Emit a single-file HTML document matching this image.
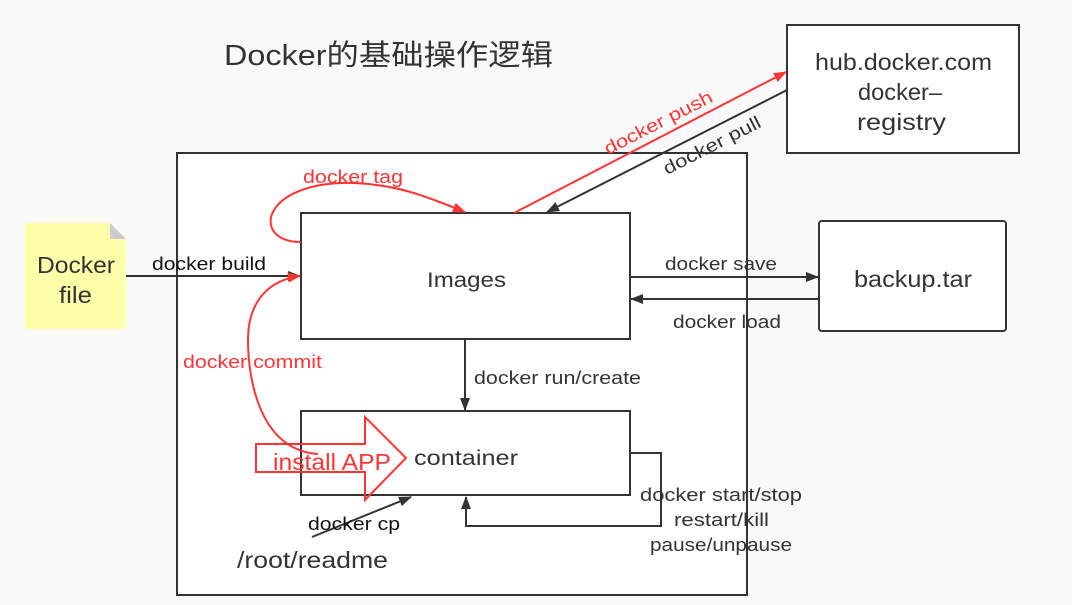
<!DOCTYPE html>
<html><head><meta charset="utf-8"><style>
html,body{margin:0;padding:0;background:#f9f9f9;}
svg{display:block;}
text{font-family:"Liberation Sans","Noto Sans CJK SC",sans-serif;}
</style></head><body>
<svg width="1072" height="605" viewBox="0 0 1072 605" xmlns="http://www.w3.org/2000/svg">
<defs>
<marker id="ab" markerWidth="13" markerHeight="10" refX="12" refY="5" orient="auto" markerUnits="userSpaceOnUse"><path d="M0,0 L13,5 L0,10 z" fill="#333"/></marker>
<marker id="ar" markerWidth="13" markerHeight="10" refX="12" refY="5" orient="auto" markerUnits="userSpaceOnUse"><path d="M0,0 L13,5 L0,10 z" fill="#ff3333"/></marker>
</defs>
<rect x="0" y="0" width="1072" height="605" fill="#f9f9f9"/>
<text x="224" y="65" font-size="29" fill="#333" textLength="329" lengthAdjust="spacingAndGlyphs">Docker的基础操作逻辑</text>
<rect x="177" y="153" width="570" height="442" fill="#fff" stroke="#333" stroke-width="2"/>
<!-- sticky -->
<path d="M25,223 L110,223 L126,239 L126,329 L25,329 z" fill="#ffffaa"/>
<path d="M110,223 L126,239 L110,239 z" fill="#ccc"/>
<text x="37" y="273" font-size="23" fill="#333" textLength="78" lengthAdjust="spacingAndGlyphs">Docker</text>
<text x="59" y="303" font-size="23" fill="#333" textLength="33" lengthAdjust="spacingAndGlyphs">file</text>
<!-- boxes -->
<rect x="301" y="213" width="329" height="126" fill="#fff" stroke="#333" stroke-width="2"/>
<text x="427" y="287" font-size="21" fill="#333" textLength="79" lengthAdjust="spacingAndGlyphs">Images</text>
<rect x="301" y="411" width="329" height="84" fill="#fff" stroke="#333" stroke-width="2"/>
<text x="414" y="465" font-size="21" fill="#333" textLength="104" lengthAdjust="spacingAndGlyphs">container</text>
<rect x="787" y="25" width="232" height="128" fill="#fff" stroke="#333" stroke-width="2"/>
<text x="815" y="70" font-size="23" fill="#333" textLength="177" lengthAdjust="spacingAndGlyphs">hub.docker.com</text>
<text x="858" y="100" font-size="23" fill="#333" textLength="84" lengthAdjust="spacingAndGlyphs">docker–</text>
<text x="857" y="130" font-size="23" fill="#333" textLength="89" lengthAdjust="spacingAndGlyphs">registry</text>
<rect x="819" y="221" width="187" height="110" rx="3" fill="#fff" stroke="#333" stroke-width="2"/>
<text x="854" y="287" font-size="23" fill="#333" textLength="118" lengthAdjust="spacingAndGlyphs">backup.tar</text>
<!-- arrows -->
<line x1="126" y1="276" x2="300" y2="276" stroke="#333" stroke-width="2" marker-end="url(#ab)"/>
<text x="152" y="270" font-size="18" fill="#111" textLength="114" lengthAdjust="spacingAndGlyphs">docker build</text>
<line x1="630" y1="277" x2="818" y2="277" stroke="#333" stroke-width="2" marker-end="url(#ab)"/>
<text x="665" y="270" font-size="18" fill="#333" textLength="112" lengthAdjust="spacingAndGlyphs">docker save</text>
<line x1="818" y1="299" x2="631" y2="299" stroke="#333" stroke-width="2" marker-end="url(#ab)"/>
<text x="673" y="328" font-size="18" fill="#333" textLength="108" lengthAdjust="spacingAndGlyphs">docker load</text>
<line x1="465" y1="339" x2="465" y2="410" stroke="#333" stroke-width="2" marker-end="url(#ab)"/>
<text x="474" y="384" font-size="18" fill="#333" textLength="167" lengthAdjust="spacingAndGlyphs">docker run/create</text>
<polyline points="630,453 661,453 661,526 466,526 466,497" fill="none" stroke="#333" stroke-width="2" marker-end="url(#ab)"/>
<text x="640" y="501" font-size="18" fill="#333" textLength="162" lengthAdjust="spacingAndGlyphs">docker start/stop</text>
<text x="674" y="526" font-size="18" fill="#333" textLength="95" lengthAdjust="spacingAndGlyphs">restart/kill</text>
<text x="650" y="551" font-size="18" fill="#333" textLength="142" lengthAdjust="spacingAndGlyphs">pause/unpause</text>
<line x1="312" y1="537" x2="411" y2="497" stroke="#333" stroke-width="2" marker-end="url(#ab)"/>
<text x="308" y="530" font-size="18" fill="#111" textLength="92" lengthAdjust="spacingAndGlyphs">docker cp</text>
<text x="237" y="568" font-size="23" fill="#333" textLength="151" lengthAdjust="spacingAndGlyphs">/root/readme</text>
<line x1="787" y1="90" x2="547" y2="212" stroke="#333" stroke-width="2" marker-end="url(#ab)"/>
<text transform="translate(667,175) rotate(-27)" font-size="18" fill="#333" textLength="107" lengthAdjust="spacingAndGlyphs">docker pull</text>
<line x1="514" y1="213" x2="786" y2="72" stroke="#ff3333" stroke-width="2" marker-end="url(#ar)"/>
<text transform="translate(608,155) rotate(-27)" font-size="18" fill="#ff3333" textLength="119" lengthAdjust="spacingAndGlyphs">docker push</text>
<!-- tag curve -->
<path d="M301,242 C250,242 260,180 355,183 C400,185 430,198 465,212" fill="none" stroke="#ff3333" stroke-width="2" marker-end="url(#ar)"/>
<text x="303" y="183" font-size="18" fill="#ff3333" textLength="100" lengthAdjust="spacingAndGlyphs">docker tag</text>
<!-- commit curve -->
<path d="M318,454 C260,450 248,380 248,340 C248,300 270,280 300,276" fill="none" stroke="#ff3333" stroke-width="2" marker-end="url(#ar)"/>
<text x="183" y="368" font-size="18" fill="#ff3333" textLength="139" lengthAdjust="spacingAndGlyphs">docker commit</text>
<!-- install APP block arrow -->
<path d="M256,444 L365,444 L365,417 L406,458 L365,500 L365,472 L256,472 z" fill="none" stroke="#ff3333" stroke-width="2"/>
<text x="273" y="470" font-size="23" fill="#ff3333" textLength="118" lengthAdjust="spacingAndGlyphs">install APP</text>
</svg>
</body></html>
